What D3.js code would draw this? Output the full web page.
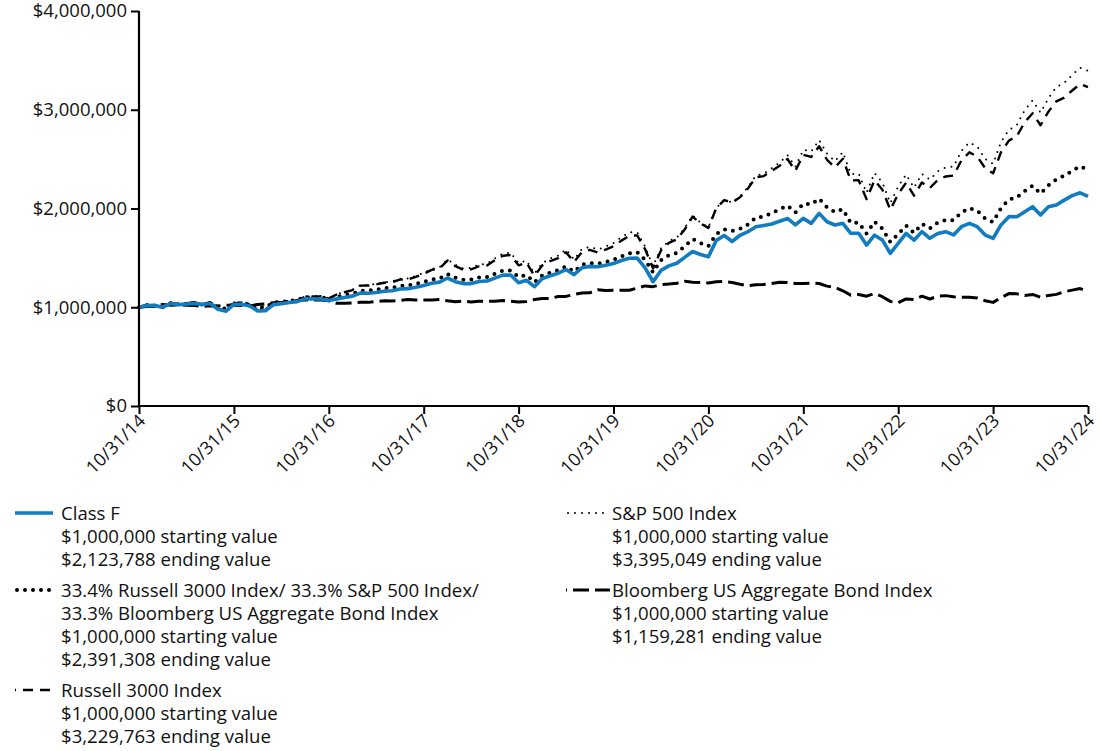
<!DOCTYPE html>
<html>
<head>
<meta charset="utf-8">
<script src="https://cdn.jsdelivr.net/npm/d3@7"></script>
<style>
  body { margin: 0; background: #fff; }
  text { font-family: "Open Sans", "Noto Sans", sans-serif; fill: #111; }
</style>
</head>
<body>
<script>
// growth of $1,000,000, month-end values in $ thousands, 10/31/14 .. 10/31/24
var classF = [1000,1018.9,1016.6,1000.4,1037.4,1026.9,1032.5,1038.9,1028,1037.3,979,959.9,1028.9,1029.4,1012.1,963.5,964.4,1026.6,1036.5,1048.6,1057.1,1084.7,1084.9,1084.2,1068.9,1084.9,1098.9,1112.8,1142.8,1142.4,1149.9,1163,1166.4,1184.4,1188.2,1202.9,1220.9,1243.2,1254.5,1296.1,1259.4,1239.3,1239.6,1260.3,1265.1,1295.3,1325.5,1326.2,1247.7,1273,1208.5,1290.1,1319.5,1345.2,1382,1330,1399.2,1414.1,1410.5,1424.3,1443.6,1473.1,1496.1,1497.4,1398,1258.4,1373.1,1419.1,1445.1,1504.6,1564.2,1533.8,1510.6,1677.4,1726.1,1665.9,1728.8,1765.3,1815.2,1828.7,1843.4,1871.4,1899,1834,1900,1849.5,1950.6,1865.6,1832.9,1850.4,1749,1748.7,1630,1729.9,1680.4,1545.7,1647.4,1748.2,1679.4,1765.7,1698.4,1746.9,1765.8,1732.3,1816,1849.2,1815.6,1731.7,1697.3,1833.7,1917.4,1916.6,1968,2018.6,1934.3,2017.7,2035.7,2085,2130.9,2159,2123.8];
var blend = [1000,1019.9,1018.6,1005.4,1039.5,1030,1035.6,1043.1,1025.6,1042.5,999,984.5,1039.3,1039.8,1027.5,998.4,999.4,1047.6,1052.3,1064.6,1073.2,1102.3,1102.5,1103,1087.4,1104.8,1120.2,1135.5,1167.3,1168.1,1179.4,1192.8,1197.5,1216,1221.2,1236.3,1256.1,1280.3,1292,1336.2,1298.3,1278.9,1279.3,1302,1306.9,1339.5,1370.7,1372.9,1306.5,1326,1252.3,1323.2,1350.6,1376.9,1414.5,1361.3,1430.7,1445.9,1442.2,1457.8,1480.6,1515.5,1545.6,1556.6,1479.4,1353.1,1476.5,1525.9,1550.5,1617.8,1691,1649.2,1619.1,1741.9,1788.7,1772.2,1795.2,1838.9,1908.7,1918.9,1952.8,1990.8,2028.9,1959.4,2049.6,2041.4,2099.7,2012.5,1964.5,1994,1852.8,1858.3,1745.2,1866.1,1797.2,1660.3,1741.4,1826.7,1753,1845,1799.1,1858.4,1882.5,1880.9,1961.1,2003.5,1977.8,1898.8,1863.1,2004,2091,2113.1,2177,2230.5,2151.6,2234.4,2295,2332.2,2380.9,2425.8,2391.3];
var russell = [1000,1026.1,1023.4,992.4,1047.6,1030.2,1039.8,1051.6,1030.3,1051.4,986.4,961.1,1041.6,1043,1025.5,975.5,973.5,1040,1044.9,1063.3,1066.5,1106.8,1107.7,1108.7,1089.5,1129.1,1152,1173.9,1218.8,1219.6,1232,1247.6,1254.9,1280.6,1282.5,1308.7,1339.1,1378.2,1393.2,1472.7,1416.4,1379.4,1384.2,1415.2,1423.2,1475.6,1521.5,1529.1,1424.2,1450.8,1318.5,1424,1468.2,1496.4,1557.1,1456.5,1558.8,1581.3,1554.5,1583.2,1617.5,1674.7,1724.6,1727.5,1587.4,1393.4,1575.2,1652,1687.8,1786.6,1918.1,1848.8,1803.6,2004,2085,2060.9,2113.8,2202.4,2316.8,2328.4,2378.9,2432,2501.2,2381.1,2544.4,2522.1,2630.9,2493.5,2416.3,2503.8,2284.5,2285.5,2094.6,2286.4,2190.2,1986.4,2145.9,2262.2,2129.6,2264,2207.7,2288.2,2324.7,2333.6,2487.8,2568.7,2526.5,2406.5,2356.7,2570.2,2687.4,2731.5,2874.2,2964.9,2842.9,2980.8,3085.7,3122.2,3195,3261.1,3229.8];
var sp500 = [1000,1026.1,1023.4,993.1,1049.2,1032.5,1042.9,1055.5,1034.9,1056.9,992.3,967.5,1049.4,1051.6,1034.7,983.7,981.1,1047.5,1051.9,1069.7,1072.3,1112.2,1112.5,1112.8,1092.9,1132,1154.3,1176.8,1222.4,1223.8,1236.8,1253.1,1261,1287.4,1290,1317,1348.2,1388.2,1404,1485.2,1429.5,1393.2,1399.1,1431.5,1440.7,1494.9,1542.5,1551.4,1446,1474.1,1340.8,1448.5,1493.9,1523,1585.3,1483.3,1587.9,1611.3,1584.5,1614.2,1649.7,1708.5,1760,1759.8,1614.3,1414.5,1596.3,1671.2,1704.5,1801.1,1930.3,1857.4,1808.8,2006.4,2084,2064,2121.1,2214.4,2334.1,2350.5,2406.3,2464.9,2540.2,2423.1,2594.5,2576.9,2693.4,2555.6,2479.2,2571.9,2349.2,2352.9,2158.8,2359.1,2262.4,2054.2,2221.7,2344.7,2209.8,2349.8,2291.9,2375.9,2414.4,2424.1,2584.9,2669.5,2626.2,2502.1,2450.8,2673.4,2795.9,2844.7,2996.4,3094.1,2969.9,3117.2,3230.2,3271.8,3351.6,3424.5,3395];
var bloomberg = [1000,1007.1,1008,1029.2,1019.5,1024.2,1020.5,1018.1,1007,1014,1012.6,1019.5,1019.7,1017,1013.8,1027.8,1035.1,1044.6,1048.6,1048.9,1067.8,1074.5,1073.3,1072.7,1064.5,1039.3,1040.8,1042.9,1049.9,1049.4,1057.5,1065.6,1064.5,1069.1,1078.7,1073.5,1074.2,1072.8,1077.7,1065.3,1055.2,1062,1054.1,1061.6,1060.3,1060.5,1067.3,1060.5,1052.1,1058.4,1077.9,1089.3,1088.6,1109.5,1109.9,1129.6,1143.9,1146.4,1176.1,1169.9,1173.4,1172.8,1172,1194.5,1216,1208.8,1230.3,1236.1,1243.9,1262.4,1252.2,1251.6,1246,1258.2,1260,1250.9,1232.9,1217.5,1227.1,1231.2,1239.8,1253.7,1251.3,1240.4,1240,1243.7,1240.5,1213.8,1200.2,1166.9,1122.7,1129.9,1112.1,1139.2,1107,1059.2,1045.4,1083.9,1079,1112.2,1083.4,1110.9,1117.7,1105.5,1101.5,1100.7,1093.7,1065.9,1049.1,1096.6,1138.6,1135.5,1119.5,1129.8,1101.2,1119.9,1130.5,1157,1173.6,1189.4,1159.3];

var xLabels = ["10/31/14","10/31/15","10/31/16","10/31/17","10/31/18","10/31/19","10/31/20","10/31/21","10/31/22","10/31/23","10/31/24"];
var yTicks = [0, 1000, 2000, 3000, 4000];

var W = 1100, H = 751;
var plotLeft = 139, plotTop = 11, plotW = 949, plotH = 395;
var blue = "#127cc1";

var svg = d3.select("body").append("svg")
    .attr("width", W)
    .attr("height", H);

var x = d3.scaleLinear().domain([0, classF.length - 1]).range([plotLeft, plotLeft + plotW]);
var y = d3.scaleLinear().domain([0, 4000]).range([plotTop + plotH, plotTop]);

var series = [
    {name: "Bloomberg US Aggregate Bond Index", values: bloomberg, color: "#000", width: 3, dash: "16 6", cap: "butt", off: 15},
    {name: "Russell 3000 Index", values: russell, color: "#000", width: 2.4, dash: "10 7", cap: "butt", off: 9},
    {name: "S&P 500 Index", values: sp500, color: "#000", width: 2, dash: "0 7", cap: "round", off: 0},
    {name: "blend", values: blend, color: "#000", width: 4, dash: "0 8", cap: "round", off: 0},
    {name: "Class F", values: classF, color: blue, width: 3.6, dash: null, cap: "butt", off: 0}
];

var line = d3.line()
    .x(function(d, i){ return x(i); })
    .y(function(d){ return y(d); });

svg.append("g").selectAll("path")
    .data(series)
    .enter()
    .append("path")
    .attr("d", function(d){ return line(d.values); })
    .attr("fill", "none")
    .attr("stroke", function(d){ return d.color; })
    .attr("stroke-width", function(d){ return d.width; })
    .attr("stroke-dasharray", function(d){ return d.dash; })
    .attr("stroke-linecap", function(d){ return d.cap; })
    .attr("stroke-linejoin", "round");

// axes
var yAxis = d3.axisLeft(y)
    .tickValues(yTicks)
    .tickSize(8)
    .tickFormat(function(d){ return "$" + d3.format(",")(d * 1000); });

var gy = svg.append("g")
    .attr("transform", "translate(" + plotLeft + ",0)")
    .call(yAxis);
gy.select(".domain").attr("stroke", "#000").attr("stroke-width", 2.2).attr("d", "M0," + plotTop + "V" + (plotTop + plotH));
gy.selectAll(".tick line").attr("stroke", "#000").attr("stroke-width", 2);
gy.selectAll(".tick text")
    .attr("x", -12)
    .style("font-size", "18.5px")
    .style("font-family", "'Open Sans', 'Noto Sans', sans-serif")
    .attr("fill", "#111");

var xAxis = d3.axisBottom(x)
    .tickValues(d3.range(0, 121, 12))
    .tickSize(8)
    .tickFormat(function(d){ return xLabels[d / 12]; });

var gx = svg.append("g")
    .attr("transform", "translate(0," + (plotTop + plotH) + ")")
    .call(xAxis);
gx.select(".domain").attr("stroke", "#000").attr("stroke-width", 2.2).attr("d", "M" + plotLeft + ",0H" + (plotLeft + plotW));
gx.selectAll(".tick line").attr("stroke", "#000").attr("stroke-width", 2);
gx.selectAll(".tick text")
    .style("font-size", "18px")
    .style("font-family", "'Open Sans', 'Noto Sans', sans-serif")
    .attr("fill", "#111")
    .attr("text-anchor", "end")
    .attr("dy", null)
    .attr("y", 0)
    .attr("transform", "translate(7,16) rotate(-45)");

// legend
var legend = [
    {col: 0, row: 513, style: series[4], lines: ["Class F", "$1,000,000 starting value", "$2,123,788 ending value"]},
    {col: 0, row: 590, style: series[3], lines: ["33.4% Russell 3000 Index/ 33.3% S&P 500 Index/", "33.3% Bloomberg US Aggregate Bond Index", "$1,000,000 starting value", "$2,391,308 ending value"]},
    {col: 0, row: 690, style: series[1], lines: ["Russell 3000 Index", "$1,000,000 starting value", "$3,229,763 ending value"]},
    {col: 1, row: 513, style: series[2], lines: ["S&P 500 Index", "$1,000,000 starting value", "$3,395,049 ending value"]},
    {col: 1, row: 590, style: series[0], lines: ["Bloomberg US Aggregate Bond Index", "$1,000,000 starting value", "$1,159,281 ending value"]}
];
var colX = [15, 566], symLen = [38, 44], textX = [61, 612];

var lg = svg.append("g").selectAll("g")
    .data(legend)
    .enter()
    .append("g")
    .attr("transform", function(d){ return "translate(" + colX[d.col] + "," + d.row + ")"; });

lg.append("line")
    .attr("x1", function(d){ return d.style.cap == "round" && d.style.dash ? 2 : 0; })
    .attr("x2", function(d){ return symLen[d.col]; })
    .attr("y1", 0)
    .attr("y2", 0)
    .attr("stroke", function(d){ return d.style.color; })
    .attr("stroke-width", function(d){ return d.style.width; })
    .attr("stroke-dasharray", function(d){ return d.style.dash; })
    .attr("stroke-dashoffset", function(d){ return d.style.off; })
    .attr("stroke-linecap", function(d){ return d.style.cap; });

lg.selectAll("text")
    .data(function(d){ return d.lines; })
    .enter()
    .append("text")
    .attr("x", function(){ var d = d3.select(this.parentNode).datum(); return textX[d.col] - colX[d.col]; })
    .attr("y", function(d, i){ return i * 23; })
    .attr("dy", "0.35em")
    .style("font-size", "18.6px")
    .text(function(d){ return d; });
</script>
</body>
</html>
